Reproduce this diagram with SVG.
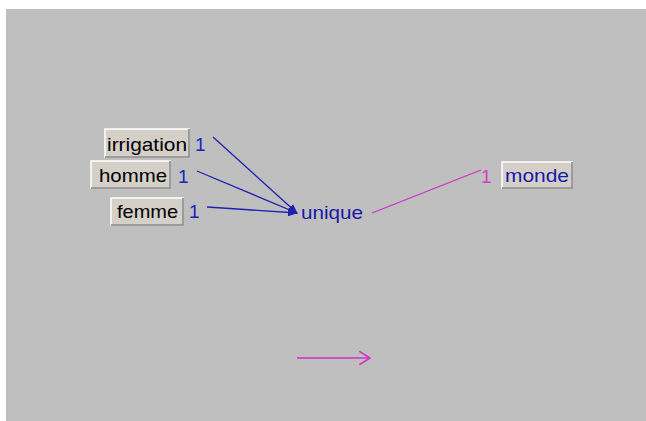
<svg xmlns="http://www.w3.org/2000/svg" width="646" height="421" viewBox="0 0 646 421">
  <style>
    .btn { fill: #d4d0c8; stroke: #ffffff; stroke-width: 1.5; }
    .btn-shade { fill: none; stroke: #808080; stroke-width: 1.5; }
    .lbl { font-family: "Liberation Sans", Arial, sans-serif; font-size: 19px; fill: #000; }
    .lbl-blue { font-family: "Liberation Sans", Arial, sans-serif; font-size: 19px; fill: #1a1aa8; }
    .card { font-family: "Liberation Sans", Arial, sans-serif; font-size: 19px; fill: #2020c0; }
    .card-pink { font-family: "Liberation Sans", Arial, sans-serif; font-size: 19px; fill: #d040c0; }
    .edge-blue { stroke: #2020b0; stroke-width: 1.3; fill: none; }
    .edge-pink { stroke: #d030c8; stroke-width: 1.3; fill: none; }
  </style>
  <defs>
    <marker id="head-blue" markerWidth="10" markerHeight="8" refX="9" refY="4" orient="auto" markerUnits="userSpaceOnUse">
      <path d="M0,0 L10,4 L0,8 Z" fill="#2020b0"/>
    </marker>
    <marker id="head-pink" markerWidth="12" markerHeight="14" refX="11" refY="7" orient="auto" markerUnits="userSpaceOnUse">
      <path d="M0,0 L11,7 L0,14" fill="none" stroke="#d030c8" stroke-width="1.5"/>
    </marker>
  </defs>

  <rect x="0" y="0" width="646" height="421" fill="#ffffff"/>
  <rect x="6" y="9" width="640" height="412" fill="#bfbfbf"/>

  <g id="connectors">
    <line class="edge-blue" x1="213" y1="137" x2="297" y2="213" marker-end="url(#head-blue)"/>
    <line class="edge-blue" x1="197" y1="171" x2="297" y2="213" marker-end="url(#head-blue)"/>
    <line class="edge-blue" x1="207" y1="207" x2="297" y2="213" marker-end="url(#head-blue)"/>
    <line class="edge-pink" x1="372" y1="213" x2="481" y2="170"/>
    <line class="edge-pink" x1="297" y1="358" x2="370" y2="358" marker-end="url(#head-pink)" stroke-width="1.6"/>
  </g>

  <g id="node-irrigation">
    <rect class="btn" x="105" y="129" width="84" height="28"/>
    <path class="btn-shade" d="M189,129 V157 H105"/>
    <text class="lbl" x="107" y="151" textLength="80" lengthAdjust="spacingAndGlyphs">irrigation</text>
    <text class="card" x="195" y="151">1</text>
  </g>

  <g id="node-homme">
    <rect class="btn" x="91" y="161" width="79" height="27"/>
    <path class="btn-shade" d="M170,161 V188 H91"/>
    <text class="lbl" x="99" y="182" textLength="68" lengthAdjust="spacingAndGlyphs">homme</text>
    <text class="card" x="178" y="183">1</text>
  </g>

  <g id="node-femme">
    <rect class="btn" x="111" y="198" width="72" height="27"/>
    <path class="btn-shade" d="M183,198 V225 H111"/>
    <text class="lbl" x="117" y="218" textLength="61" lengthAdjust="spacingAndGlyphs">femme</text>
    <text class="card" x="189" y="218">1</text>
  </g>

  <g id="node-unique">
    <text class="lbl-blue" x="301" y="219" textLength="62" lengthAdjust="spacingAndGlyphs">unique</text>
  </g>

  <g id="node-monde">
    <rect class="btn" x="502" y="162" width="70" height="26"/>
    <path class="btn-shade" d="M572,162 V188 H502"/>
    <text class="lbl-blue" x="505" y="182" textLength="64" lengthAdjust="spacingAndGlyphs">monde</text>
    <text class="card-pink" x="481" y="183">1</text>
  </g>
</svg>
